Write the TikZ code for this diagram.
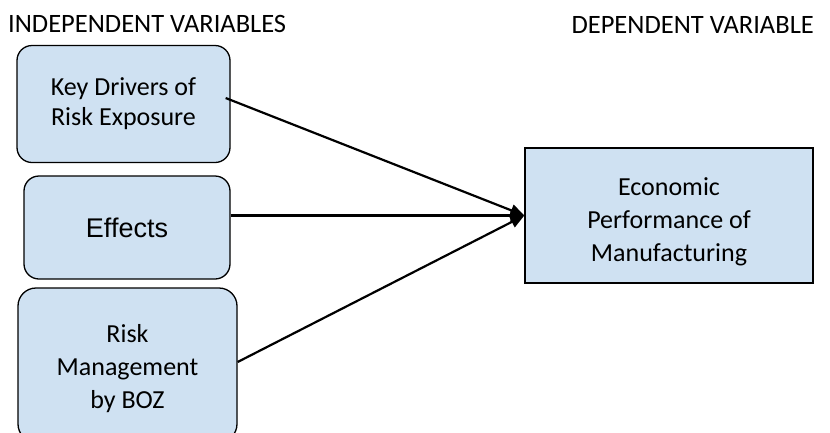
\documentclass[tikz,border=0pt]{standalone}
\usepackage{fontspec}
\setmainfont{Carlito}
\newfontfamily\arialfont{Liberation Sans}
\usetikzlibrary{arrows.meta,calc}
\definecolor{boxblue}{RGB}{207,225,242}
\begin{document}
\begin{tikzpicture}[x=1pt,y=-1pt,
  ivbox/.style={draw=black, line width=1.3pt, fill=boxblue, rounded corners=15pt,
    inner sep=0pt, align=center, font=\fontsize{26}{30}\selectfont},
  dvbox/.style={draw=black, line width=1.3pt, fill=boxblue,
    inner sep=0pt, align=center, font=\fontsize{26}{33}\selectfont},
  title/.style={inner sep=0pt, font=\fontsize{26.5}{30}\selectfont},
  arr/.style={line width=2.2pt, -{Triangle[length=14pt,width=12pt]}}]
\useasboundingbox (0,0) rectangle (830,432);
\clip (0,0) rectangle (830,432);
\node[title, anchor=base west] (tind) at (8,32) {INDEPENDENT VARIABLES};
\node[title, anchor=base east] (tdep) at (814,33) {DEPENDENT VARIABLE};
\node[ivbox, minimum width=213pt, minimum height=117pt] (k) at (123.5,104) {Key Drivers of\\Risk Exposure};
\node[ivbox, minimum width=206pt, minimum height=103pt, font=\arialfont\fontsize{27}{30}\selectfont] (e) at (127,227.5) {Effects};
\node[ivbox, rounded corners=18pt, minimum width=219pt, minimum height=154pt, font=\fontsize{26}{33}\selectfont] (r) at (127.5,365) {\raisebox{-4pt}[\height][\depth]{\parbox{210pt}{\centering Risk\\Management\\by BOZ}}};
\node[dvbox, minimum width=288pt, minimum height=135pt] (p) at (669,215.5) {\raisebox{-6pt}[\height][\depth]{\parbox{280pt}{\centering Economic\\Performance of\\Manufacturing}}};
\draw[arr] ($(k.east)+(-5,-6)$) -- (p.west);
\draw[arr] (e.east |- p.west) -- (p.west);
\draw[arr] ($(r.east)+(0,-3)$) -- (p.west);
\end{tikzpicture}
\end{document}
